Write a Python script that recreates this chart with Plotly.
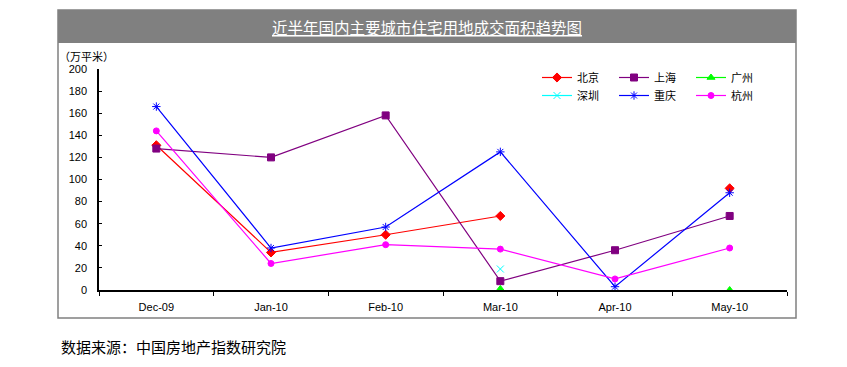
import plotly.graph_objects as go

categories = ["Dec-09", "Jan-10", "Feb-10", "Mar-10", "Apr-10", "May-10"]
beijing = [131, 34, 50, 67, None, 92]
shanghai = [128, 120, 158, 8, 36, 67]
guangzhou = [None, None, None, 1, None, 0]
shenzhen = [None, None, None, 19, None, None]
chongqing = [166, 38, 57, 125, 3, 88]
hangzhou = [144, 24, 41, 37, 10, 38]

y_ticks = [0, 20, 40, 60, 80, 100, 120, 140, 160, 180, 200]

W, H = 847, 367
L, R, T, B = 99, 787, 69, 290

def px(x):
    return (x - L) / (R - L)

def py(y):
    return (B - y) / (B - T)

series = [
    ("北京", beijing, "#FF0000", "diamond", 7, "legend"),
    ("上海", shanghai, "#800080", "square", 7, "legend"),
    ("广州", guangzhou, "#00FF00", "triangle-up", 7, "legend"),
    ("深圳", shenzhen, "#00FFFF", "x-thin-open", 7, "legend2"),
    ("重庆", chongqing, "#0000FF", "asterisk-open", 7, "legend2"),
    ("杭州", hangzhou, "#FF00FF", "circle", 6, "legend2"),
]

fig = go.Figure()
for name, vals, color, sym, size, lg in series:
    fig.add_trace(go.Scatter(
        x=categories, y=vals, name=name, mode="lines+markers",
        line=dict(color=color, width=1.2),
        marker=dict(symbol=sym, size=size, color=color,
                    line=dict(color=color, width=1)),
        legend=lg,
    ))

cjk = "SimSun, 'Noto Sans CJK SC', sans-serif"
num = "Arial, 'Liberation Sans', sans-serif"

leg_common = dict(orientation="h", xanchor="left", yanchor="top",
                  entrywidth=32, entrywidthmode="pixels", itemwidth=30,
                  font=dict(family=cjk, size=11), bgcolor="rgba(0,0,0,0)",
                  tracegroupgap=0, itemclick=False)

fig.update_layout(
    width=W, height=H,
    margin=dict(l=L, r=W - R, t=T, b=H - B, autoexpand=False),
    paper_bgcolor="white", plot_bgcolor="white",
    font=dict(family=num, size=11, color="black"),
    xaxis=dict(
        type="category", categoryorder="array", categoryarray=categories,
        range=[-0.5, 5.5], showgrid=False, zeroline=False,
        showline=True, linecolor="black", linewidth=1.5,
        ticks="outside", tickson="boundaries", ticklen=4, tickcolor="black",
        tickfont=dict(family=num, size=11), ticklabelstandoff=6,
    ),
    yaxis=dict(
        range=[0, 200], tickvals=y_ticks, showgrid=False, zeroline=False,
        showline=True, linecolor="black", linewidth=1.5,
        ticks="inside", ticklen=3, tickcolor="black",
        tickfont=dict(family=num, size=11), ticklabelstandoff=8,
    ),
    legend=dict(x=px(537), y=py(63), **leg_common),
    legend2=dict(x=px(537), y=py(81), **leg_common),
    shapes=[
        dict(type="rect", xref="paper", yref="paper",
             x0=px(58), x1=px(796), y0=py(318), y1=py(10),
             line=dict(color="#808080", width=1.5), fillcolor="rgba(0,0,0,0)", layer="below"),
        dict(type="rect", xref="paper", yref="paper",
             x0=px(58), x1=px(796), y0=py(43), y1=py(10),
             line=dict(width=0), fillcolor="#808080", layer="below"),
    ],
    annotations=[
        dict(text="<u>近半年国内主要城市住宅用地成交面积趋势图</u>", xref="paper", yref="paper",
             x=px(427), y=py(27), xanchor="center", yanchor="middle", showarrow=False,
             font=dict(family=cjk, size=15.5, color="white")),
        dict(text="（万平米）", xref="paper", yref="paper",
             x=px(57), y=py(56), xanchor="left", yanchor="middle", showarrow=False,
             font=dict(family=cjk, size=11, color="black")),
        dict(text="数据来源：中国房地产指数研究院", xref="paper", yref="paper",
             x=px(59), y=py(346), xanchor="left", yanchor="middle", showarrow=False,
             font=dict(family=cjk, size=15, color="black")),
    ],
)

fig.write_html("out.html", config={"displayModeBar": False},
               post_script="document.body.style.margin='0';")
